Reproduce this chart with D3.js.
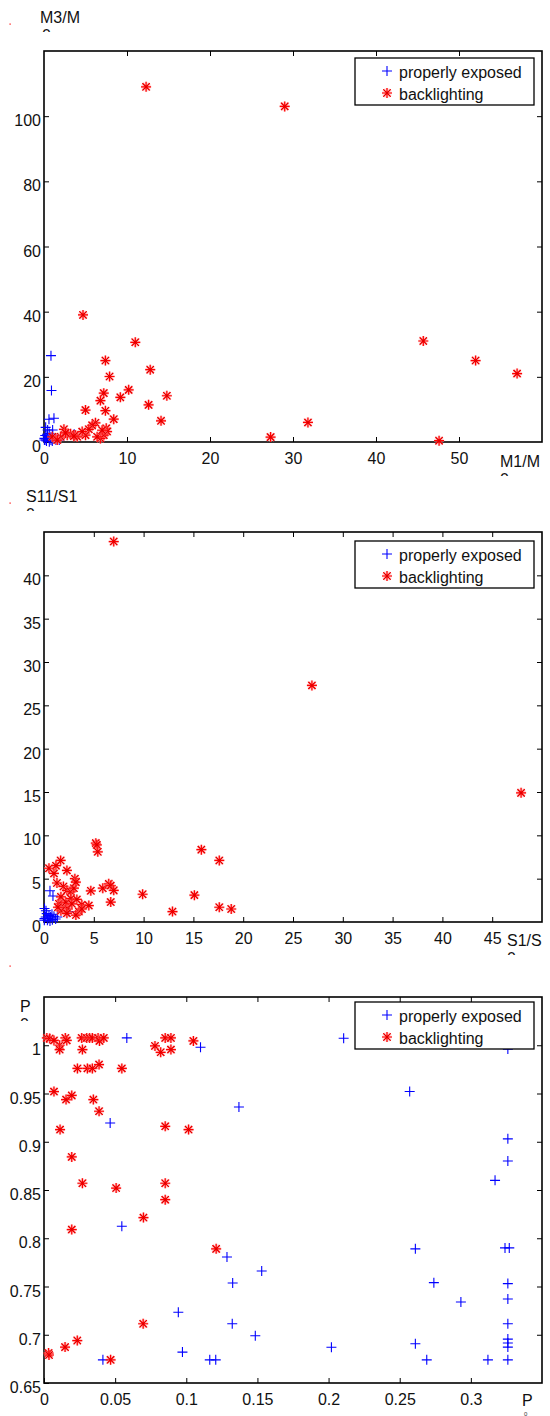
<!DOCTYPE html>
<html>
<head>
<meta charset="utf-8">
<script src="https://cdn.jsdelivr.net/npm/d3@7"></script>
<style>
  html, body { margin: 0; padding: 0; background: #fff; }
  svg { display: block; }
  text { font-family: "Liberation Sans", Arial, Helvetica, sans-serif; }
</style>
</head>
<body>
<svg id="chart" width="550" height="1416"></svg>
<script>
// ---------------- DATA ----------------
const seriesNames = ["properly exposed", "backlighting"];

// Plot 1: M1/M0 vs M3/M0
const p1XTicks = [0, 10, 20, 30, 40, 50];
const p1YTicks = [0, 20, 40, 60, 80, 100];
const p1XDomain = [0, 60];
const p1YDomain = [0, 120];
const p1BlueX = [0.84, 0.9, 0.6, 1.2, 0.2, 0.05, 0.44, 0.24, 0.84, 0.64, 0.44, 1.04, 1.24, 1.44, 0.84, 0.05, 0.64, 1.84, 1.04, 0.36, 3.64, 0.15, 0.3, 0.6, 1.0];
const p1BlueY = [26.5, 15.8, 7, 7.3, 4.5, 1.1, 1.6, 0.6, 1.6, 2.6, 3.7, 2.1, 1.1, 0.6, 0.6, 0.6, 0.1, 0.6, 3.7, 2.4, 2.4, 2.0, 0.3, 1.2, 0.3];
const p1RedX = [12.3, 29, 4.7, 11, 45.7, 52, 57, 7.4, 7.9, 12.8, 10.2, 7.2, 9.2, 14.8, 6.8, 12.6, 5, 7.4, 8.4, 14.1, 6.2, 5.8, 5.4, 7.5, 7.6, 7.2, 6.8, 5, 3.8, 2.8, 2.4, 2, 1.4, 1, 3.2, 4.6, 4, 6.4, 7, 1.6, 3.6, 2.6, 31.8, 27.3, 47.6];
const p1RedY = [109, 103, 39, 30.6, 31, 25, 21, 25, 20.1, 22.2, 16, 15, 13.7, 14.2, 12.7, 11.4, 9.8, 9.6, 7, 6.5, 5.9, 5.1, 3.9, 4.2, 3.2, 2.1, 1.1, 2.1, 2.1, 2.1, 3.9, 1.6, 1.1, 1.6, 2.5, 3.2, 1.6, 1.6, 3.6, 0.6, 1.8, 2.8, 6, 1.5, 0.4];

// Plot 2: S1/S0 vs S11/S10
const p2XTicks = [0, 5, 10, 15, 20, 25, 30, 35, 40, 45];
const p2YTicks = [0, 5, 10, 15, 20, 25, 30, 35, 40];
const p2XDomain = [0, 50];
const p2YDomain = [0, 45];
const p2BlueX = [0.6, 0.9, 0.2, 2.5, 0.05, 0.17, 0.34, 0.67, 0.84, 0.5, 1.0, 0.03, 0.6, 1.34, 1.17, 0.27, 0.05, 0.4, 0.8];
const p2BlueY = [3.6, 3.0, 1.3, 1.2, 0.39, 0.58, 0.2, 0.58, 0.27, 0.77, 0.66, 0.2, 0.12, 0.58, 0.35, 0.97, 1.55, 0.4, 0.9];
const p2RedX = [7, 26.9, 47.9, 5.2, 5.3, 5.4, 15.8, 17.6, 1.67, 0.5, 1.2, 1.0, 2.3, 3.1, 1.3, 1.95, 2.3, 2.7, 3.0, 3.2, 4.7, 5.9, 6.5, 6.7, 7.0, 6.7, 9.9, 15.1, 12.9, 17.6, 18.8, 1.7, 1.5, 2.0, 2.4, 1.7, 2.2, 2.7, 3.3, 3.8, 4.5, 3.5, 3.2, 3.8, 2.8, 2.3, 1.4];
const p2RedY = [43.9, 27.3, 14.9, 9.1, 8.9, 8.1, 8.35, 7.1, 7.1, 6.2, 6.5, 5.6, 5.95, 5.0, 4.5, 4.1, 3.65, 3.5, 3.9, 4.6, 3.6, 3.9, 4.4, 4.2, 3.65, 2.3, 3.2, 3.1, 1.2, 1.7, 1.5, 2.9, 2.1, 1.7, 1.5, 1.3, 2.3, 2.7, 2.6, 2.0, 1.9, 1.2, 0.8, 1.5, 2.1, 1.0, 1.7];

// Plot 3: P vs P0
const p3XTicks = [0, 0.05, 0.1, 0.15, 0.2, 0.25, 0.3];
const p3YTicks = [0.65, 0.7, 0.75, 0.8, 0.85, 0.9, 0.95, 1];
const p3XDomain = [0, 0.35];
const p3YDomain = [0.65, 1.05];
const p3BlueX = [0.0582, 0.110, 0.137, 0.0465, 0.0547, 0.1286, 0.1326, 0.2106, 0.257, 0.261, 0.274, 0.293, 0.153, 0.0944, 0.0414, 0.0973, 0.1165, 0.1207, 0.1323, 0.1485, 0.202, 0.261, 0.269, 0.312, 0.326, 0.326, 0.326, 0.317, 0.324, 0.327, 0.326, 0.326, 0.326, 0.326, 0.326, 0.326, 0.326];
const p3BlueY = [1.0076, 0.998, 0.936, 0.9195, 0.8124, 0.7806, 0.7537, 1.0073, 0.952, 0.789, 0.754, 0.734, 0.766, 0.7233, 0.674, 0.682, 0.674, 0.674, 0.7114, 0.699, 0.687, 0.6907, 0.674, 0.674, 0.996, 0.903, 0.88, 0.86, 0.79, 0.79, 0.753, 0.737, 0.7114, 0.6955, 0.6914, 0.6872, 0.674];
const p3RedX = [0.002, 0.004, 0.007, 0.011, 0.011, 0.015, 0.016, 0.0265, 0.030, 0.032, 0.034, 0.038, 0.039, 0.042, 0.027, 0.0235, 0.0305, 0.034, 0.0387, 0.0547, 0.0852, 0.0892, 0.078, 0.082, 0.0892, 0.105, 0.007, 0.0155, 0.0195, 0.0347, 0.0387, 0.0113, 0.0852, 0.1016, 0.0195, 0.027, 0.0507, 0.0852, 0.0852, 0.0699, 0.0195, 0.121, 0.0032, 0.0035, 0.0148, 0.0234, 0.0697, 0.0468];
const p3RedY = [1.0076, 1.007, 1.005, 1.0, 0.9955, 1.0076, 1.005, 1.0076, 1.0076, 1.0076, 1.0076, 1.0076, 1.0045, 1.0076, 0.9955, 0.976, 0.976, 0.976, 0.98, 0.976, 1.0076, 1.0076, 0.9993, 0.9927, 0.9955, 1.0045, 0.952, 0.9437, 0.948, 0.9437, 0.9316, 0.9126, 0.916, 0.9126, 0.8843, 0.857, 0.852, 0.857, 0.84, 0.8214, 0.809, 0.789, 0.681, 0.679, 0.6872, 0.694, 0.7114, 0.674];

// ---------------- LAYOUT ----------------
const BLUE = "#0000ff", RED = "#ff0000", HALO = "#ff8c8c";
const FONT = 16;
const svg = d3.select("#chart");
svg.append("rect").attr("width", 550).attr("height", 1416).attr("fill", "#fff");

const plusPath = "M-5,0H5M0,-5V5";
const starPath = "M-5,0H5M0,-5V5M-3.6,-3.6L3.6,3.6M-3.6,3.6L3.6,-3.6";
const xPath = "M-3.6,-3.6L3.6,3.6M-3.6,3.6L3.6,-3.6";

const plots = [
  { left: 44, right: 542, top: 51, bottom: 442,
    xd: p1XDomain, yd: p1YDomain, xt: p1XTicks, yt: p1YTicks,
    bx: p1BlueX, by: p1BlueY, rx: p1RedX, ry: p1RedY,
    ylab: { text: "M3/M", x: 40, y: 23, subX: 42 },
    xlab: { text: "M1/M", x: 500, y: 467, subX: 500 },
    legTop: 58, dotY: 24 },
  { left: 44, right: 542, top: 532, bottom: 922,
    xd: p2XDomain, yd: p2YDomain, xt: p2XTicks, yt: p2YTicks,
    bx: p2BlueX, by: p2BlueY, rx: p2RedX, ry: p2RedY,
    ylab: { text: "S11/S1", x: 26, y: 502, subX: 26 },
    xlab: { text: "S1/S", x: 507, y: 946, subX: 507 },
    legTop: 541, dotY: 503 },
  { left: 44, right: 542, top: 997, bottom: 1383,
    xd: p3XDomain, yd: p3YDomain, xt: p3XTicks, yt: p3YTicks,
    bx: p3BlueX, by: p3BlueY, rx: p3RedX, ry: p3RedY,
    ylab: { text: "P", x: 20, y: 1012, subX: 20 },
    xlab: { text: "P", x: 522, y: 1406, subX: 524, tiny: true },
    legTop: 1002, dotY: 966 }
];

const defs = svg.append("defs");

function drawStar(sel) {
  sel.append("path").attr("d", starPath).attr("fill", "none")
    .attr("stroke", HALO).attr("stroke-width", 2.6).attr("stroke-opacity", 0.55);
  sel.append("path").attr("d", starPath).attr("fill", "none")
    .attr("stroke", RED).attr("stroke-width", 1.2);
  sel.append("path").attr("d", xPath).attr("fill", "none")
    .attr("stroke", "#d00000").attr("stroke-width", 0.8);
}

plots.forEach((p, i) => {
  const x = d3.scaleLinear().domain(p.xd).range([p.left, p.right]);
  const y = d3.scaleLinear().domain(p.yd).range([p.bottom, p.top]);
  const g = svg.append("g");

  // tiny red artefact dot
  g.append("rect").attr("x", 9.5).attr("y", p.dotY - 0.5).attr("width", 1.2).attr("height", 1.2).attr("fill", RED);

  defs.append("clipPath").attr("id", "clip" + i)
    .append("rect").attr("x", p.left - 6).attr("y", p.top - 6)
    .attr("width", p.right - p.left + 12).attr("height", p.bottom - p.top + 12);

  // axes with inward ticks on all four sides
  const xb = d3.axisBottom(x).tickValues(p.xt).tickSize(-5).tickPadding(8).tickFormat(d3.format(""));
  const xtp = d3.axisTop(x).tickValues(p.xt.slice(1)).tickSize(-5).tickFormat("");
  const yl = d3.axisLeft(y).tickValues(p.yt).tickSize(-5).tickPadding(6).tickFormat(d3.format(""));
  const yr = d3.axisRight(y).tickValues(p.yt.slice(1)).tickSize(-5).tickFormat("");

  const axB = g.append("g").attr("transform", `translate(0,${p.bottom})`).call(xb);
  const axT = g.append("g").attr("transform", `translate(0,${p.top})`).call(xtp);
  const axL = g.append("g").attr("transform", `translate(${p.left},0)`).call(yl);
  const axR = g.append("g").attr("transform", `translate(${p.right},0)`).call(yr);
  [axB, axT, axL, axR].forEach(a => {
    a.select(".domain").remove();
    a.selectAll(".tick line").attr("stroke", "#000").attr("stroke-width", 1);
    a.selectAll("text").attr("fill", "#111").style("font-size", FONT + "px")
      .style("font-family", '"Liberation Sans", Arial, sans-serif');
  });
  axB.selectAll("text").attr("y", 11);
  axL.selectAll("text").attr("dy", "0.6em").attr("x", -3);

  // box
  g.append("rect").attr("x", p.left).attr("y", p.top)
    .attr("width", p.right - p.left).attr("height", p.bottom - p.top)
    .attr("fill", "none").attr("stroke", "#000").attr("stroke-width", 1.6);

  // points
  const pts = g.append("g").attr("clip-path", `url(#clip${i})`);
  pts.selectAll(".blue").data(d3.range(p.bx.length)).join("path")
    .attr("class", "blue")
    .attr("d", plusPath)
    .attr("transform", k => `translate(${x(p.bx[k])},${y(p.by[k])})`)
    .attr("fill", "none").attr("stroke", BLUE).attr("stroke-width", 1.1);
  pts.selectAll(".red").data(d3.range(p.rx.length)).join("g")
    .attr("class", "red")
    .attr("transform", k => `translate(${x(p.rx[k])},${y(p.ry[k])})`)
    .call(drawStar);

  // axis labels (with clipped subscript "0" line)
  [p.ylab, p.xlab].forEach((lab, j) => {
    g.append("text").attr("x", lab.x).attr("y", lab.y)
      .style("font-size", FONT + "px").attr("fill", "#111").text(lab.text);
    if (lab.tiny) {
      g.append("text").attr("x", lab.subX).attr("y", 1415.5)
        .style("font-size", "6px").attr("fill", "#333").text("0");
    } else {
      const cid = `lab${i}_${j}`;
      defs.append("clipPath").attr("id", cid).append("rect")
        .attr("x", lab.subX - 2).attr("y", lab.y + 5).attr("width", 14).attr("height", 4);
      g.append("text").attr("x", lab.subX).attr("y", lab.y + 18)
        .attr("clip-path", `url(#${cid})`)
        .style("font-size", FONT + "px").attr("fill", "#111").text("0");
    }
  });

  // legend
  const lg = g.append("g").attr("transform", `translate(355,${p.legTop})`);
  lg.append("rect").attr("width", 179).attr("height", 47)
    .attr("fill", "#fff").attr("stroke", "#000").attr("stroke-width", 1.3);
  lg.append("path").attr("d", plusPath).attr("transform", "translate(32,13)")
    .attr("fill", "none").attr("stroke", BLUE).attr("stroke-width", 1.1);
  lg.append("g").attr("transform", "translate(32,35)").call(drawStar);
  lg.append("text").attr("x", 44).attr("y", 20).style("font-size", FONT + "px").attr("fill", "#111").text(seriesNames[0]);
  lg.append("text").attr("x", 44).attr("y", 42).style("font-size", FONT + "px").attr("fill", "#111").text(seriesNames[1]);
});
</script>
</body>
</html>
